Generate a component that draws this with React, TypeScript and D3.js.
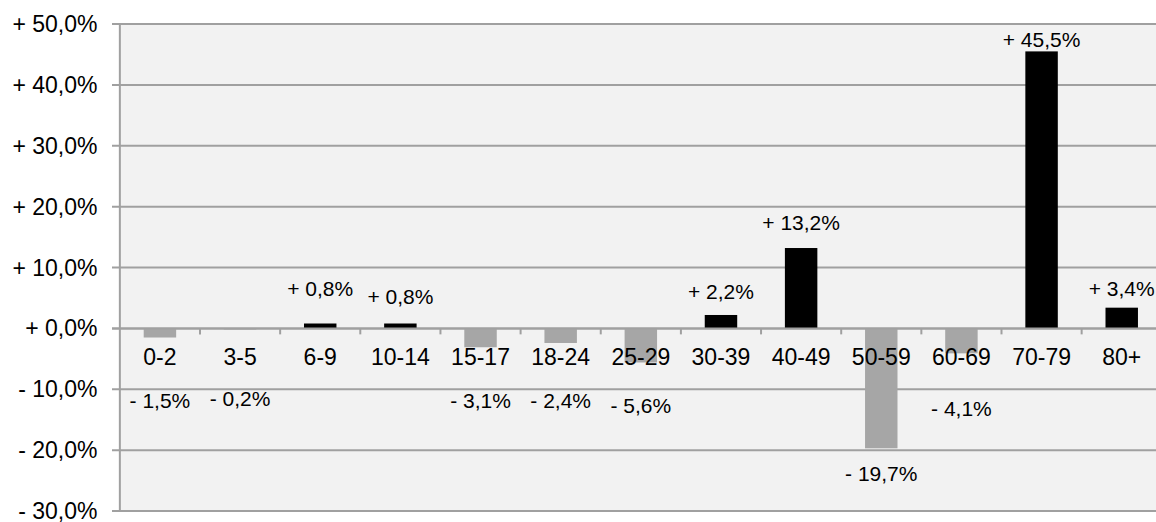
import React from "react";
import * as d3 from "d3";

const categories = ["0-2", "3-5", "6-9", "10-14", "15-17", "18-24", "25-29", "30-39", "40-49", "50-59", "60-69", "70-79", "80+"];
const values = [-1.5, -0.2, 0.8, 0.8, -3.1, -2.4, -5.6, 2.2, 13.2, -19.7, -4.1, 45.5, 3.4];
// value-axis position (in %) where each data label's centre was placed in the original
const labelAt = [-11.8, -11.6, 6.5, 5.3, -11.8, -11.8, -12.6, 6.0, 17.4, -23.8, -13.2, 47.5, 6.5];
const yTicks = [50, 40, 30, 20, 10, 0, -10, -20, -30];

const W = 1156;
const H = 522;
const left = 119.85;
const bandW = 80.15;
const top = 24;
const bottom = 511;

const fmtPct = (v: number) => {
  const sign = v < 0 ? "- " : "+ ";
  return sign + Math.abs(v).toFixed(1).replace(".", ",") + "%";
};

export default function App() {
  const x = d3
    .scaleBand<string>()
    .domain(categories)
    .range([left, left + bandW * categories.length])
    .padding(0);
  const y = d3.scaleLinear().domain([-30, 50]).range([bottom, top]);
  const barW = x.bandwidth() * 0.405;
  const right = left + bandW * categories.length;
  const font = "'Liberation Sans', Arial, sans-serif";

  return (
    <svg
      width={W}
      height={H}
      style={{ position: "absolute", left: 0, top: 0, display: "block", background: "#fff" }}
    >
      <rect x={left} y={top} width={right - left} height={bottom - top} fill="#f2f2f2" />
      {yTicks.map((t) => (
        <g key={t}>
          <line x1={112} x2={right} y1={y(t)} y2={y(t)} stroke="#a0a0a0" strokeWidth={2} />
          <text
            x={97.5}
            y={y(t)}
            textAnchor="end"
            dominantBaseline="central"
            fontFamily={font}
            fontSize={23}
            fill="#000"
          >
            {fmtPct(t)}
          </text>
        </g>
      ))}
      {categories.map((c, i) => {
        const v = values[i];
        const cx = (x(c) as number) + x.bandwidth() / 2;
        return (
          <rect
            key={c}
            x={cx - barW / 2}
            y={Math.min(y(v), y(0))}
            width={barW}
            height={Math.abs(y(v) - y(0))}
            fill={v >= 0 ? "#000" : "#a6a6a6"}
          />
        );
      })}
      <line x1={left} x2={left} y1={top} y2={bottom} stroke="#a0a0a0" strokeWidth={2} />
      <line x1={112} x2={right} y1={y(0)} y2={y(0)} stroke="#a0a0a0" strokeWidth={2} />
      {categories.map((c, i) =>
        i === 0 ? null : (
          <line
            key={"t" + c}
            x1={x(c) as number}
            x2={x(c) as number}
            y1={y(0)}
            y2={y(0) + 6}
            stroke="#a0a0a0"
            strokeWidth={2}
          />
        )
      )}
      {categories.map((c) => (
        <text
          key={"c" + c}
          x={(x(c) as number) + x.bandwidth() / 2}
          y={357}
          textAnchor="middle"
          dominantBaseline="central"
          fontFamily={font}
          fontSize={23}
          fill="#000"
        >
          {c}
        </text>
      ))}
      {categories.map((c, i) => (
        <text
          key={"l" + c}
          x={(x(c) as number) + x.bandwidth() / 2}
          y={y(labelAt[i])}
          textAnchor="middle"
          dominantBaseline="central"
          fontFamily={font}
          fontSize={21}
          fill="#000"
        >
          {fmtPct(values[i])}
        </text>
      ))}
    </svg>
  );
}
